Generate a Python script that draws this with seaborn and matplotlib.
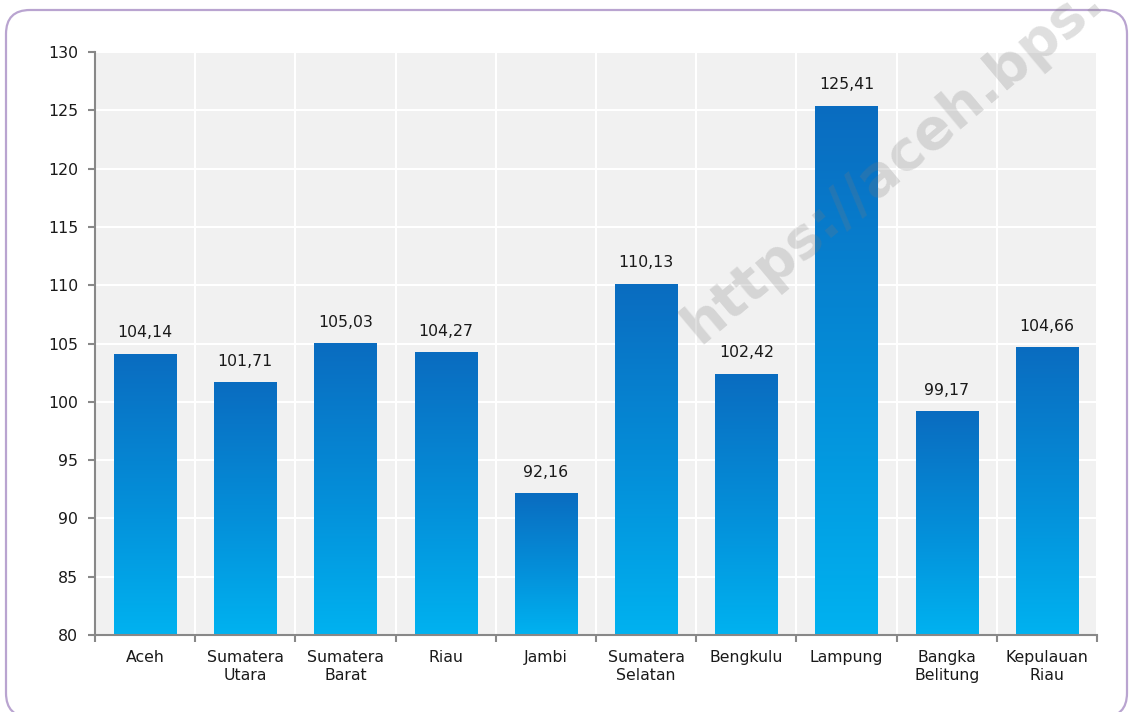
import numpy as np
import pandas as pd
import matplotlib.pyplot as plt
import seaborn as sns
from matplotlib.colors import LinearSegmentedColormap
from matplotlib.patches import FancyBboxPatch
from matplotlib.transforms import IdentityTransform

# data
provinces = ["Aceh", "Sumatera\nUtara", "Sumatera\nBarat", "Riau", "Jambi",
             "Sumatera\nSelatan", "Bengkulu", "Lampung", "Bangka\nBelitung",
             "Kepulauan\nRiau"]
values = [104.14, 101.71, 105.03, 104.27, 92.16, 110.13, 102.42, 125.41, 99.17, 104.66]
y_ticks = [80, 85, 90, 95, 100, 105, 110, 115, 120, 125, 130]
y_min, y_max = 80, 130

df = pd.DataFrame({"province": provinces, "value": values})

sns.set_theme(style="whitegrid")
plt.rcParams['font.family'] = ['DejaVu Sans']

fig = plt.figure(figsize=(11.29, 7.12), dpi=100)
ax = fig.add_axes([95 / 1129, 1 - 635 / 712, (1097 - 95) / 1129, (635 - 52) / 712])
ax.set_facecolor("#f1f1f1")

sns.barplot(data=df, x="province", y="value", color="#0a80d0", width=0.62,
            saturation=1, ax=ax, zorder=2)

# vertical gradient on each bar (dark blue top -> light blue bottom)
grad = LinearSegmentedColormap.from_list(
    "bar_grad", [(0.0, "#00b2f0"), (0.45, "#0490da"), (1.0, "#0a6cc0")])
g = np.linspace(0, 1, 256).reshape(-1, 1)
for patch in ax.patches:
    x0 = patch.get_x()
    w = patch.get_width()
    top = patch.get_y() + patch.get_height()
    im = ax.imshow(g, cmap=grad, origin="lower", aspect="auto",
                   extent=[x0, x0 + w, y_min, top], zorder=2.5)
    im.set_clip_path(patch)
    patch.set_edgecolor("none")

# value labels above bars
for i, v in enumerate(values):
    ax.annotate(f"{v:.2f}".replace(".", ","), (i, v), xytext=(0, 9.5),
                textcoords="offset points", ha="center", va="bottom",
                fontsize=11.3, color="#1a1a1a")

ax.set_xlim(-0.5, len(provinces) - 0.5)
ax.set_ylim(y_min, y_max)
ax.set_yticks(y_ticks)
ax.set_xticks(range(len(provinces)))
ax.set_xticklabels(provinces, fontsize=11.3, color="#1a1a1a", linespacing=1.2)
ax.set_xticks(np.arange(-0.5, len(provinces), 1), minor=True)
ax.tick_params(axis="y", labelsize=11.3, labelcolor="#1a1a1a", length=5,
               width=1.5, color="#888888", pad=7, left=True)
ax.tick_params(axis="x", which="major", length=0, pad=11)
ax.tick_params(axis="x", which="minor", length=5, width=1.5, color="#888888",
               bottom=True)
ax.set_xlabel("")
ax.set_ylabel("")

ax.grid(False)
ax.grid(which="major", axis="y", color="white", linewidth=1.5)
ax.grid(which="minor", axis="x", color="white", linewidth=1.5)
ax.set_axisbelow(True)

for side in ["top", "right"]:
    ax.spines[side].set_visible(False)
for side in ["left", "bottom"]:
    ax.spines[side].set_visible(True)
    ax.spines[side].set_color("#888888")
    ax.spines[side].set_linewidth(1.5)

# watermark, drawn over the chart with low alpha (runs off the top edge as in the source)
fig.text(700 / 1129, 1 - 345 / 712, "https://aceh.bps.", rotation=40,
         rotation_mode="anchor", ha="left", va="baseline",
         fontsize=40, fontweight="bold", color="#7a7a7a", alpha=0.24)

# rounded border around the chart
border = FancyBboxPatch((6, -5), 1121, 707, boxstyle="round,pad=0,rounding_size=24",
                        transform=IdentityTransform(), facecolor="none",
                        edgecolor="#b9a4d0", linewidth=1.6)
fig.add_artist(border)

fig.savefig("out.png", dpi=100)
